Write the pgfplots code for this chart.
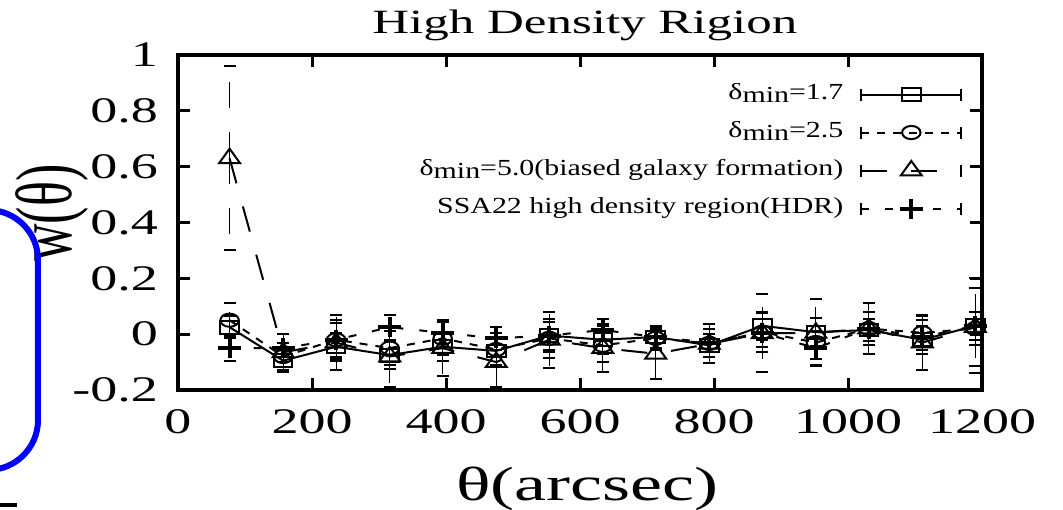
\documentclass[border=0pt]{standalone}
\usepackage{pgfplots}
\pgfplotsset{compat=1.18}
\usepackage{pgfplotstable}
\usepackage{fontspec}
\setmainfont{Liberation Serif}[FakeStretch=1.5]
\newfontfamily\ylabelfont{Liberation Serif}[FakeStretch=0.65]
\newfontfamily\legendfont{Liberation Serif}[FakeStretch=1.3]

% angular correlation w(theta): x = theta [arcsec], y = w, e = 1-sigma error
\pgfplotstableread{
x     y       e
77    0.025   0.04
157  -0.095   0.04
236  -0.045   0.05
316  -0.075   0.05
395  -0.045   0.05
475  -0.060   0.05
554  -0.005   0.05
634  -0.020   0.05
713  -0.010   0.04
793  -0.040   0.04
872   0.030   0.05
952   0.007   0.05
1031  0.015   0.04
1111 -0.020   0.05
1190  0.030   0.05
}\dminA

\pgfplotstableread{
x     y       e
77    0.050   0.06
157  -0.080   0.05
236  -0.020   0.07
316  -0.050   0.06
395  -0.015   0.06
475  -0.055   0.06
554  -0.015   0.07
634  -0.040   0.06
713  -0.015   0.04
793  -0.033   0.05
872   0.007   0.07
952  -0.030   0.06
1031  0.020   0.06
1111  0.005   0.06
1190  0.020   0.06
}\dminB

\pgfplotstableread{
x     y       e
77    0.630   0.33
157  -0.065   0.065
236  -0.030   0.10
316  -0.080   0.11
395  -0.050   0.10
475  -0.100   0.09
554  -0.020   0.10
634  -0.050   0.085
713  -0.070   0.09
793  -0.035   0.07
872   0.003   0.14
952   0.005   0.12
1031  0.020   0.09
1111 -0.030   0.10
1190  0.025   0.14
}\dminC

\pgfplotstableread{
x     y       e
77   -0.050   0.045
157  -0.050   0.05
236  -0.020   0.06
316   0.025   0.045
395   0.005   0.04
475  -0.015   0.04
554  -0.005   0.06
634   0.015   0.04
713  -0.010   0.04
793  -0.030   0.05
872   0.005   0.05
952  -0.050   0.06
1031  0.020   0.09
1111 -0.010   0.06
1190  0.030   0.17
}\hdr

\begin{document}
\begin{tikzpicture}
\begin{axis}[
  scale only axis,
  width=402pt, height=167.5pt,
  xmin=0, xmax=1200, ymin=-0.2, ymax=1,
  clip=false,
  xtick={0,200,400,600,800,1000,1200},
  ytick={-0.2,0,0.2,0.4,0.6,0.8,1},
  /pgf/number format/assume math mode=true,
  /pgf/number format/fixed,
  /pgf/number format/1000 sep={},
  tick label style={font=\fontsize{18}{21}\selectfont},
  xticklabel style={yshift=-6pt},
  yticklabel style={xshift=-6.5pt},
  major tick length=6pt,
  every tick/.style={black, line width=1.5pt},
  axis line style={line width=2pt},
  title={High Density Rigion},
  title style={font=\fontsize{17}{20}\selectfont,
    at={(axis description cs:0.506,1)}, anchor=base, yshift=4.5pt},
  xlabel={θ(arcsec)},
  xlabel style={font=\fontsize{24}{28}\selectfont,
    at={(axis description cs:0.509,0)}, anchor=base, yshift=-55pt},
  ylabel={w(θ)},
  ylabel style={font=\fontsize{40}{44}\selectfont\ylabelfont,
    at={(axis description cs:-0.157,0.528)}, anchor=center},
  every axis plot/.append style={
    error bars/error mark options={rotate=90, solid, mark size=3pt, line width=1pt}},
  legend plot pos=right,
  legend cell align=right,
  legend image code/.code={
    \draw[#1, mark repeat=2, mark phase=2]
      plot coordinates {(0pt,0pt) (25pt,0pt) (50pt,0pt)};
    \draw[solid, line width=1pt] (0pt,-3pt) -- (0pt,3pt) (50pt,-3pt) -- (50pt,3pt);
  },
  legend style={draw=none, fill=none,
    font=\fontsize{11.5}{13}\selectfont\legendfont,
    at={(axis description cs:0.976,0.922)}, anchor=north east,
    row sep=6pt, column sep=8.5pt, inner sep=0pt,
    nodes={inner sep=0pt, text height=9pt, text depth=4pt}},
]

\addplot[black, line width=1pt, solid,
  mark=square, mark size=3.2pt, mark options={solid, xscale=1.45},
  error bars/.cd, y dir=both, y explicit]
  table[x=x, y=y, y error=e] {\dminA};
\addlegendentry{δ\raisebox{-0.3ex}{min}=1.7}

\addplot[black, line width=1pt, dash pattern=on 4pt off 4pt,
  mark=o, mark size=3.3pt, mark options={solid, xscale=1.4},
  error bars/.cd, y dir=both, y explicit]
  table[x=x, y=y, y error=e] {\dminB};
\addlegendentry{δ\raisebox{-0.3ex}{min}=2.5}

\addplot[black, line width=1pt, dash pattern=on 13pt off 12pt,
  mark=triangle, mark size=4.8pt, mark options={solid, xscale=1.25},
  error bars/.cd, y dir=both, y explicit]
  table[x=x, y=y, y error=e] {\dminC};
\addlegendentry{δ\raisebox{-0.3ex}{min}=5.0(biased galaxy formation)}

\addplot[black, line width=1pt, dash pattern=on 4pt off 8pt,
  mark=+, mark size=5pt, mark options={solid, xscale=1.15, line width=2pt},
  error bars/.cd, y dir=both, y explicit]
  table[x=x, y=y, y error=e] {\hdr};
\addlegendentry{SSA22 high density region(HDR)}

\end{axis}
\draw[blue, line width=3pt, rounded corners=25pt] (-130pt,90pt) rectangle (-70pt,-40pt);
\draw[line width=2pt] (-89pt,-57.5pt) -- (-80.5pt,-57.5pt);
\pgfresetboundingbox
\useasboundingbox (-89pt,-59.5pt) rectangle (442.5pt,195pt);
\end{tikzpicture}
\end{document}
